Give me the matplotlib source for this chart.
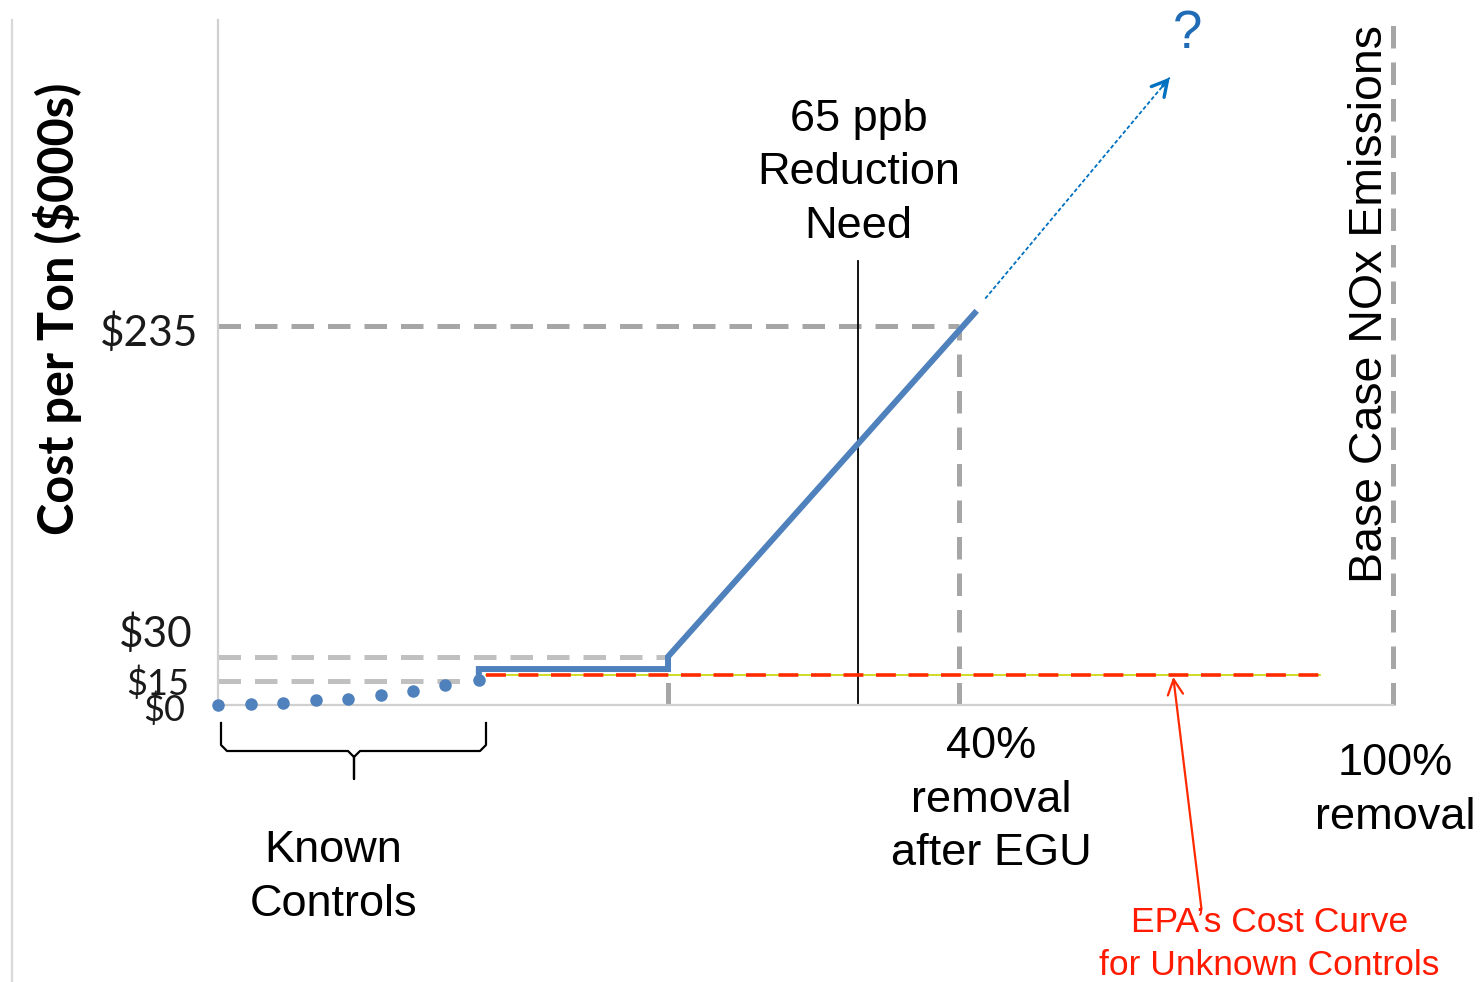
import matplotlib
matplotlib.use("Agg")
import matplotlib.pyplot as plt
from matplotlib.lines import Line2D
from matplotlib.transforms import ScaledTranslation

# ---------------- data ----------------
# x: arbitrary "reduction" units across the axis (0 = no control, 100 = 100% removal)
known_x = [0, 2.77, 5.53, 8.3, 11.06, 13.83, 16.6, 19.36, 22.2]
known_y = [0, 0.5, 1.5, 2.8, 4.0, 6.0, 8.7, 12.2, 15.5]

curve_x = [22.2, 22.2, 38.3, 38.3, 64.4]
curve_y = [15.5, 22.3, 22.3, 30, 243]

extrap_x = [65.3, 81.0]
extrap_y = [252, 389]

epa_x = [22.8, 93.8]
epa_y = [18.6, 18.6]

x_need = 54.5          # 65 ppb reduction need
x_40 = 63.1            # 40% removal after EGU
x_step = 38.3
x_known_end = 22.2
x_100 = 100

ytick_vals = [0, 15, 30, 235]
ytick_labels = ["$0", "$15", "$30", "$235"]

# ---------------- figure ----------------
W, H = 1482, 982
fig = plt.figure(figsize=(W / 100, H / 100), dpi=100)
ax = fig.add_axes([218 / W, 1 - 705 / H, 1175 / W, 685 / H])
ax.set_xlim(0, 100)
ax.set_ylim(0, 424.7)

arial = "Liberation Sans"
calib = "Lato"
grey_dark = "#A6A6A6"
grey_light = "#C0C0C0"
blue = "#4F81BD"
dsh = (4.5, 2.8)

# grey guide lines
ax.plot([0, x_40], [235, 235], color=grey_dark, lw=3.6, dashes=dsh, zorder=1)
ax.plot([x_40, x_40], [0, 235], color=grey_dark, lw=3.6, dashes=dsh, zorder=1)
ax.plot([0, x_step], [30, 30], color=grey_light, lw=3.6, dashes=dsh, zorder=1)
ax.plot([0, x_known_end], [15, 15], color=grey_light, lw=3.6, dashes=dsh, zorder=1)
ax.plot([x_step, x_step], [0, 30], color=grey_dark, lw=3.6, dashes=dsh, zorder=1)
ax.plot([x_100, x_100], [0, 424.7], color=grey_dark, lw=3.6, dashes=dsh, zorder=1, clip_on=False)

# 65 ppb need line
ax.plot([x_need, x_need], [0, 275], color="black", lw=1.3, zorder=2)

# EPA cost curve
ax.plot(epa_x, epa_y, color="#C8D400", lw=1.2, zorder=3)
ax.plot(epa_x, epa_y, color="#FF2A00", lw=2.6, dashes=(5.5, 3.5), zorder=4)

# known controls (dots)
ax.plot(known_x, known_y, ls="none", marker="o", ms=8, color=blue, zorder=5, clip_on=False)

# cost curve
ax.plot(curve_x, curve_y, color=blue, lw=4.3, solid_joinstyle="miter", zorder=5)

# extrapolated curve arrow
ax.plot(extrap_x, extrap_y, color="#0070C0", lw=1.3, dashes=(2.2, 1.3), zorder=5)
ax.annotate("", xy=(extrap_x[1], extrap_y[1]),
            xytext=(extrap_x[1] - 0.6, extrap_y[1] - 5.2),
            arrowprops=dict(arrowstyle="->,head_length=1.1,head_width=0.6",
                            color="#0070C0", lw=2.4, shrinkA=0, shrinkB=0))
ax.text(82.5, 416, "?", color="#1F6BB5", fontsize=38, family=arial,
        ha="center", va="center")

# EPA arrow (red)
ax.annotate("", xy=(81.3, 17.4), xytext=(83.7, -126.5),
            arrowprops=dict(arrowstyle="->,head_length=1.1,head_width=0.55",
                            color="#FF2A00", lw=1.6, shrinkA=0, shrinkB=0),
            annotation_clip=False)

# spines / ticks
for s in ["top", "right"]:
    ax.spines[s].set_visible(False)
for s in ["left", "bottom"]:
    ax.spines[s].set_color("#D0D0D0")
    ax.spines[s].set_linewidth(1.6)
ax.set_xticks([])
ax.set_yticks(ytick_vals)
ax.set_yticklabels(ytick_labels)
ax.tick_params(axis="y", length=0, pad=14)
sizes = {"$0": 26, "$15": 26, "$30": 30.5, "$235": 30.5}
offsets = {"$0": (-0.13, -0.02), "$15": (-0.09, 0.0), "$30": (-0.06, 0.26), "$235": (0, -0.03)}
for lab in ax.get_yticklabels():
    t = lab.get_text()
    lab.set_fontsize(sizes[t])
    lab.set_family(calib)
    lab.set_color("#1A1A1A")
    dx, dy = offsets[t]
    lab.set_transform(lab.get_transform() + ScaledTranslation(dx, dy, fig.dpi_scale_trans))

# texts
big = 32.5
ls = 1.39
ax.text(x_need, 330, "65 ppb\nReduction\nNeed", fontsize=big, family=arial,
        ha="center", va="center", linespacing=ls)
ax.text(65.8, -59, "40%\nremoval\nafter EGU", fontsize=big, family=arial,
        ha="center", va="center", linespacing=ls, clip_on=False)
ax.text(100.2, -53, "100%\nremoval", fontsize=big, family=arial,
        ha="center", va="center", linespacing=ls, clip_on=False)
ax.text(9.8, -107, "Known\nControls", fontsize=big, family=arial,
        ha="center", va="center", linespacing=ls, clip_on=False)
ax.text(89.5, -148, "EPA\u2019s Cost Curve\nfor Unknown Controls", fontsize=25.5,
        family=arial, color="#FF1A00", ha="center", va="center",
        linespacing=1.4, clip_on=False)
ax.text(98.0, 248.6, "Base Case NOx Emissions", fontsize=33.5, family=arial,
        rotation=90, ha="center", va="center")

fig.text(58 / W, 1 - 309 / H, "Cost per Ton ($000s)", fontsize=35, family=calib,
         fontweight="bold", rotation=90, ha="center", va="center")

# curly brace under known controls
bx0, bx1, bxm = 221 / W, 486 / W, 354 / W
y_top, y_mid, y_tip = 1 - 723 / H, 1 - 751 / H, 1 - 779 / H
r = 6 / W
ry = 6 / H
brace_x = [bx0, bx0, bx0 + r, bxm - r, bxm, bxm, bxm, bxm + r, bx1 - r, bx1, bx1]
brace_y = [y_top, y_mid + ry, y_mid, y_mid, y_mid - ry, y_tip, y_mid - ry, y_mid, y_mid, y_mid + ry, y_top]
fig.add_artist(Line2D(brace_x, brace_y, color="black", lw=1.6, transform=fig.transFigure))

# left border line
fig.add_artist(Line2D([12 / W, 12 / W], [0, 1 - 20 / H], color="#D9D9D9", lw=1.6,
                      transform=fig.transFigure))

fig.savefig("out.png", dpi=100)
